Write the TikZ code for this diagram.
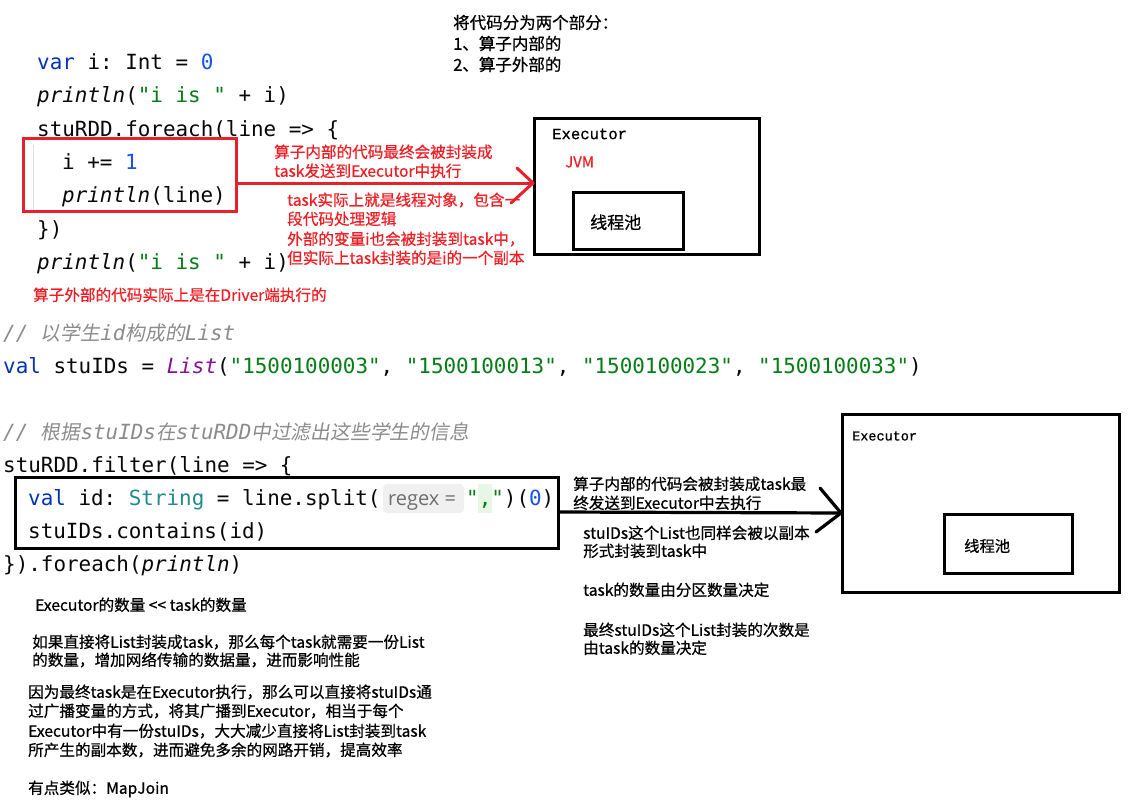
\documentclass[tikz,border=0pt]{standalone}
\usepackage{fontspec}
\setmonofont{DejaVu Sans Mono}
\newfontfamily\cjk[FakeBold=0.6]{Noto Sans CJK SC}
\newfontfamily\cjkit[FakeSlant=0.18]{Noto Sans CJK SC}
\newfontfamily\hintfont{Open Sans}
\newfontfamily\exefont[FakeBold=0.8]{Liberation Mono}
\definecolor{kwc}{HTML}{0033B3}
\definecolor{numc}{HTML}{1750EB}
\definecolor{strc}{HTML}{067D17}
\definecolor{lstc}{HTML}{871094}
\definecolor{typc}{HTML}{208C8C}
\definecolor{cmtc}{HTML}{8C8C8C}
\definecolor{codeblack}{HTML}{080808}
\definecolor{annred}{HTML}{F01E24}
\definecolor{boxred}{HTML}{E6212A}
\definecolor{hintgray}{HTML}{6E6E6E}
\definecolor{hintfill}{HTML}{F0F0F0}
\definecolor{commagreen}{HTML}{E6F7E6}
\definecolor{guidegray}{HTML}{E0E0E0}
\newcommand\ckw[1]{\textcolor{kwc}{#1}}
\newcommand\cnum[1]{\textcolor{numc}{#1}}
\newcommand\cstr[1]{\textcolor{strc}{#1}}
\newcommand\clst[1]{\textcolor{lstc}{\itshape #1}}
\newcommand\ctyp[1]{\textcolor{typc}{#1}}
\newcommand\ccjk[1]{{\cjkit\fontsize{19.8}{24}\selectfont #1}}
\tikzset{
  code/.style={anchor=base west, inner sep=0pt, text=codeblack,
    font=\ttfamily\fontsize{20.9}{24}\selectfont},
  cmt/.style={code, text=cmtc, font=\ttfamily\itshape\fontsize{20.9}{24}\selectfont},
  ann/.style={anchor=west, inner sep=0pt, text=black,
    font=\cjk\fontsize{15.6}{19}\selectfont, text height=13pt, text depth=1.5pt},
  redann/.style={ann, text=annred},
  redline/.style={draw=boxred, line width=3pt, line cap=round, line join=round},
  blackline/.style={draw=black, line width=3.2pt, line cap=round, line join=round},
  exelabel/.style={anchor=west, inner sep=0pt, font=\exefont\fontsize{15.6}{18}\selectfont}
}
\begin{document}
\begin{tikzpicture}[x=1pt,y=-1pt]
\path[fill=white,use as bounding box] (0,0) rectangle (1137,811);

% ---------------- top code ----------------
\node[code] (c1) at (37,69) {\ckw{var} i: Int = \cnum{0}};
\node[code] (c2) at (37,102) {\textit{println}(\cstr{"i is "} + i)};
\node[code] (c3) at (37,136) {stuRDD.foreach(line => \{};
\draw[guidegray, line width=1pt] (33,145) -- (33,210);
\node[code] (c4) at (62,169) {i += \cnum{1}};
\node[code] (c5) at (62,202) {\textit{println}(line)};
\node[code] (c6) at (37,236) {\})};
\node[code] (c7) at (37,269) {\textit{println}(\cstr{"i is "} + i)};

\node[draw=boxred, line width=3pt, minimum width=213pt, minimum height=73pt, inner sep=0pt] (rbox) at (130,175) {};

% top notes
\node[ann, font=\cjk\fontsize{16.5}{20}\selectfont] (n1) at (453,23) {将代码分为两个部分：};
\node[ann, font=\cjk\fontsize{16.5}{20}\selectfont] (n2) at (453,44) {1、算子内部的};
\node[ann, font=\cjk\fontsize{16.5}{20}\selectfont] (n3) at (453,65) {2、算子外部的};

% executor 1
\node[draw=black, line width=3pt, minimum width=225pt, minimum height=136pt, inner sep=0pt] (ex1) at (647,186.5) {};
\node[exelabel] (ex1lbl) at (552,134) {Executor};
\node[anchor=west, inner sep=0pt, text=annred, font=\cjk\fontsize{15}{17}\selectfont] (jvm) at (565,162) {JVM};
\node[draw=black, line width=3pt, minimum width=110pt, minimum height=57pt, inner sep=0pt] (pool1) at (628.5,221) {};
\node[ann, font=\cjk\fontsize{17}{20}\selectfont] (pool1lbl) at (590,223) {线程池};

% red arrow
\coordinate (t1) at (ex1.west |- 0,183);
\draw[redline] (rbox.east |- t1) -- (t1);
\draw[redline] (t1) ++(-16,-15) -- (t1) -- ++(-22,20);

% red notes
\node[redann] (r1) at (274,152) {算子内部的代码最终会被封装成};
\node[redann] (r2) at (274,171) {task发送到Executor中执行};
\node[redann] (r3) at (287,200) {task实际上就是线程对象，包含一};
\node[redann] (r4) at (287,219) {段代码处理逻辑};
\node[redann] (r5) at (287,239) {外部的变量i也会被封装到task中，};
\node[redann] (r6) at (287,258) {但实际上task封装的是i的一个副本};
\node[redann] (r7) at (33,295) {算子外部的代码实际上是在Driver端执行的};

% ---------------- middle code ----------------
\node[cmt] (m1) at (3,340) {// \ccjk{以学生}id\ccjk{构成的}List};
\node[code] (m2) at (3,373) {\ckw{val} stuIDs = \clst{List}(\cstr{"1500100003"}, \cstr{"1500100013"}, \cstr{"1500100023"}, \cstr{"1500100033"})};
\node[cmt] (m3) at (3,439) {// \ccjk{根据}stuIDs\ccjk{在}stuRDD\ccjk{中过滤出这些学生的信息}};
\node[code] (m4) at (3,472) {stuRDD.filter(line => \{};
\node[code] (m5a) at (28,505) {\ckw{val} id: \ctyp{String} = line.split(};
\node[fill=hintfill, rounded corners=4pt, minimum width=81pt, minimum height=29pt, inner sep=0pt] (hint) at (423.5,498.5) {};
\node[anchor=base west, inner sep=0pt, text=hintgray, font=\hintfont\fontsize{20}{24}\selectfont] (hinttxt) at (388,505) {regex =};
\node[fill=commagreen, minimum width=14pt, minimum height=29pt, inner sep=0pt] (commahl) at (485,498.5) {};
\node[code] (m5b) at (466,505) {\cstr{","})(\cnum{0})};
\node[code] (m6) at (28,538) {stuIDs.contains(id)};
\node[code] (m7) at (3,571) {\}).foreach(\textit{println})};

\node[draw=black, line width=3pt, minimum width=543pt, minimum height=71pt, inner sep=0pt] (bbox) at (287,513) {};

% executor 2
\node[draw=black, line width=3pt, minimum width=277pt, minimum height=178pt, inner sep=0pt] (ex2) at (981,503.5) {};
\node[exelabel, font=\exefont\fontsize{13.5}{16}\selectfont] (ex2lbl) at (852,436) {Executor};
\node[draw=black, line width=3pt, minimum width=128pt, minimum height=59pt, inner sep=0pt] (pool2) at (1008.5,544) {};
\node[ann, font=\cjk\fontsize{15.3}{18}\selectfont] (pool2lbl) at (964,546) {线程池};

% black arrow
\coordinate (t2) at (ex2.west |- 0,513);
\draw[blackline] (bbox.east |- 0,512) -- (t2);
\draw[blackline] (t2) ++(-21,-25) -- (t2) -- ++(-25,19);

% right notes
\node[ann] (b1) at (573,484) {算子内部的代码会被封装成task最};
\node[ann] (b2) at (573,503) {终发送到Executor中去执行};
\node[ann] (b3) at (583,533) {stuIDs这个List也同样会被以副本};
\node[ann] (b4) at (583,551) {形式封装到task中};
\node[ann] (b5) at (583,590) {task的数量由分区数量决定};
\node[ann] (b6) at (583,630) {最终stuIDs这个List封装的次数是};
\node[ann] (b7) at (583,648) {由task的数量决定};

% left notes
\node[ann] (l1) at (35,605) {Executor的数量 << task的数量};
\node[ann] (l2) at (32,642) {如果直接将List封装成task，那么每个task就需要一份List};
\node[ann] (l3) at (32,660) {的数量，增加网络传输的数据量，进而影响性能};
\node[ann] (l4) at (28,692) {因为最终task是在Executor执行，那么可以直接将stuIDs通};
\node[ann] (l5) at (28,711) {过广播变量的方式，将其广播到Executor，相当于每个};
\node[ann] (l6) at (28,731) {Executor中有一份stuIDs，大大减少直接将List封装到task};
\node[ann] (l7) at (28,750) {所产生的副本数，进而避免多余的网路开销，提高效率};
\node[ann] (l8) at (28,788) {有点类似：MapJoin};
\end{tikzpicture}
\end{document}
